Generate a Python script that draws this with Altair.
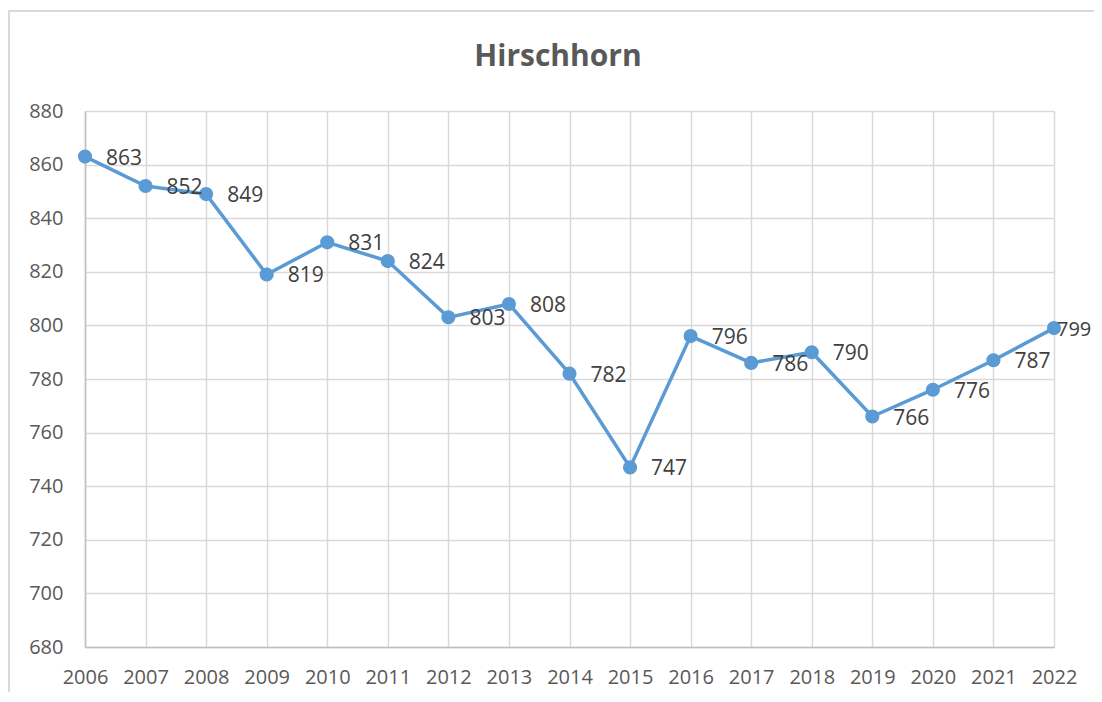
import altair as alt
import pandas as pd

years = list(range(2006, 2023))
values = [863, 852, 849, 819, 831, 824, 803, 808, 782, 747, 796, 786, 790, 766, 776, 787, 799]
y_ticks = [680, 700, 720, 740, 760, 780, 800, 820, 840, 860, 880]
title_text = ["Hirschhorn"]

df = pd.DataFrame({"year": years, "value": values})

FONT = "Open Sans"
LINE = "#5B9BD5"
GRID = "#D9D9D9"
TXT = "#595959"

x = alt.X("year:Q", scale=alt.Scale(domain=[2006, 2022], nice=False, zero=False),
          axis=alt.Axis(values=years, format="d", title=None, grid=True, gridColor=GRID,
                        gridWidth=1.5, domainColor="#BFBFBF", domainWidth=1.5, ticks=False,
                        labelPadding=20, labelFontSize=20, labelColor=TXT, labelFont=FONT,
                        labelFlush=False))
y = alt.Y("value:Q", scale=alt.Scale(domain=[680, 880], nice=False, zero=False),
          axis=alt.Axis(values=y_ticks, title=None, grid=True, gridColor=GRID, gridWidth=1.5,
                        domainColor="#BFBFBF", domainWidth=1.5, ticks=False, labelPadding=22,
                        labelFontSize=20, labelColor=TXT, labelFont=FONT))

base = alt.Chart(df)

border = alt.Chart(df).mark_rect(fill=None, stroke=GRID, strokeWidth=1.5, clip=False).encode(
    x=alt.value(-76), x2=alt.value(1100), y=alt.value(-100), y2=alt.value(700))

title = alt.Chart(pd.DataFrame({"t": title_text})).mark_text(
    align="center", baseline="middle", fontSize=30, font=FONT, fontWeight="bold", color=TXT
).encode(x=alt.value(473), y=alt.value(-54), text="t:N")

line = base.mark_line(color=LINE, strokeWidth=3.5).encode(x=x, y=y)
pts = base.mark_circle(color=LINE, size=200, opacity=1).encode(x=x, y=y)
labels = base.transform_filter(alt.datum.year < 2022).mark_text(
    align="left", baseline="middle", dx=21, dy=2, fontSize=21, font=FONT, color="#404040"
).encode(x=x, y=y, text=alt.Text("value:Q"))
last_label = base.transform_filter(alt.datum.year == 2022).mark_text(
    align="left", baseline="middle", dx=3, dy=2, fontSize=20, font=FONT, color="#404040"
).encode(x=x, y=y, text=alt.Text("value:Q"))

chart = alt.layer(border, title, line, pts, labels, last_label).properties(
    width=969, height=536,
    autosize=alt.AutoSizeParams(type="none"),
    padding={"left": 77, "top": 103, "right": 40, "bottom": 45},
).configure_view(stroke=None).configure(background="white")

chart.save("out.html", embed_options={"renderer": "svg", "actions": False})
